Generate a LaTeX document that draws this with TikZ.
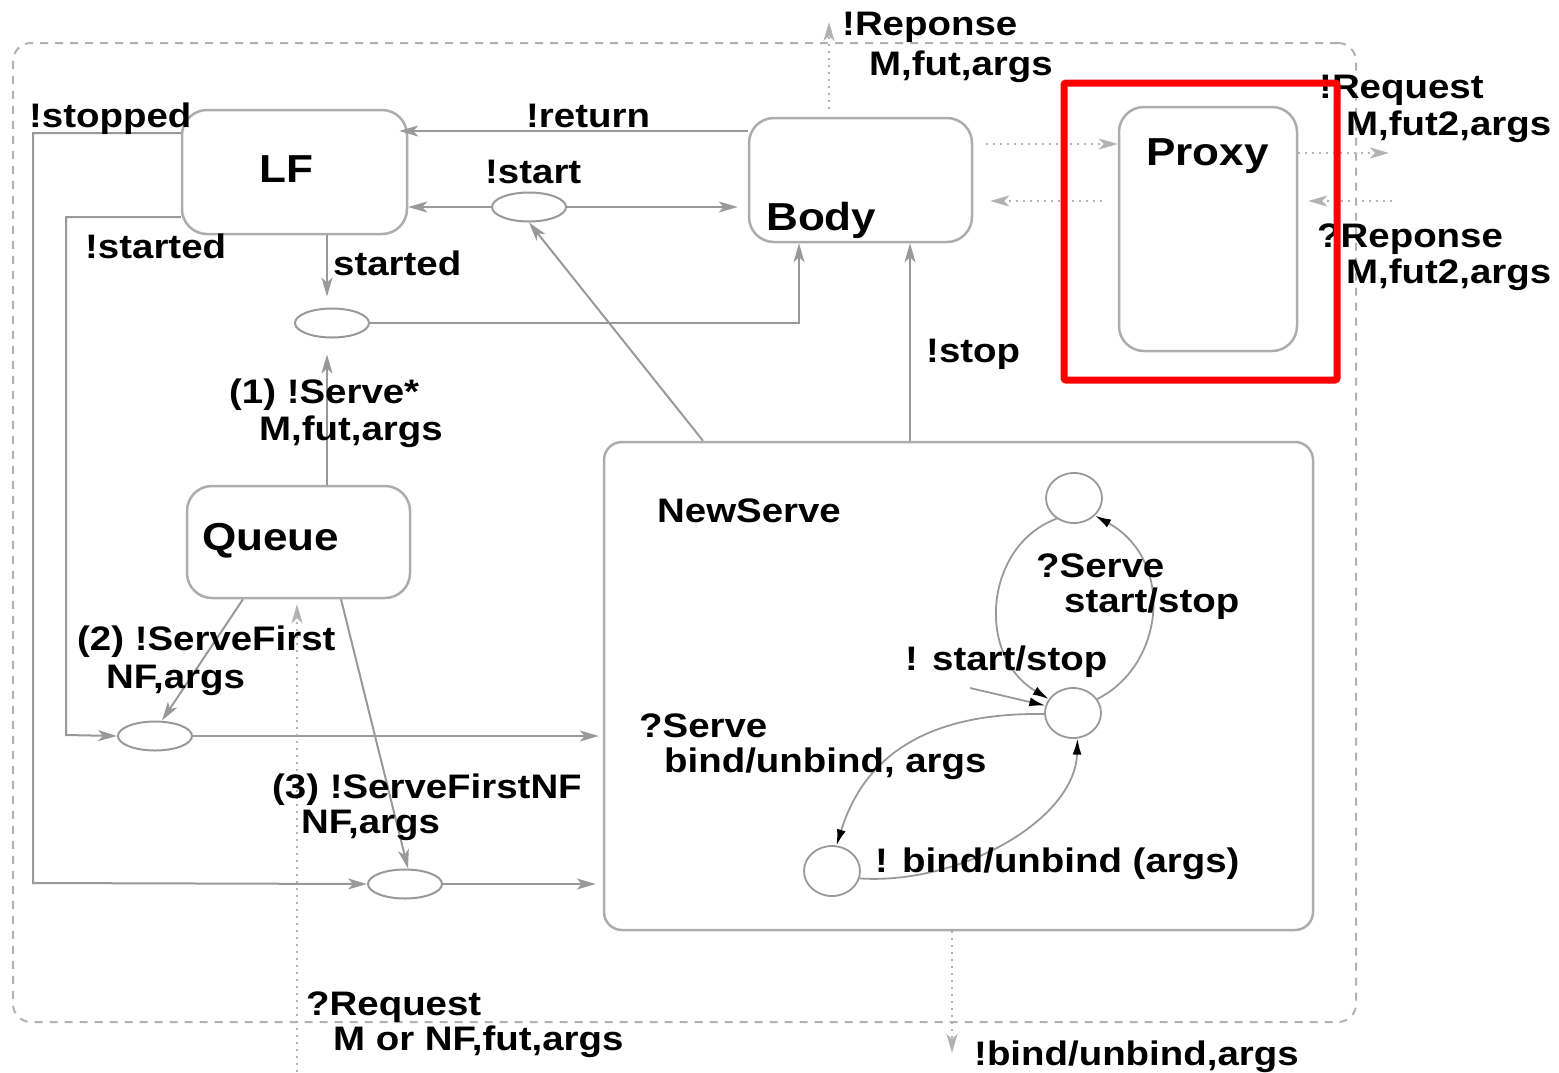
\documentclass[tikz,border=0pt]{standalone}
\usepackage{fontspec}
\setmainfont{Liberation Sans}[FakeStretch=1.13]
\usetikzlibrary{shapes.geometric,arrows.meta}
\definecolor{lc}{gray}{0.6}
\definecolor{bc}{gray}{0.68}
\definecolor{dc}{gray}{0.7}
\begin{document}
\begin{tikzpicture}[x=1pt,y=-1pt,
  box/.style={draw=bc,line width=2.5pt,rounded corners=25pt,inner sep=0},
  oval/.style={ellipse,draw=lc,line width=2pt,inner sep=0,minimum width=74pt,minimum height=29pt},
  stt/.style={ellipse,draw=lc,line width=1.8pt,inner sep=0,minimum width=56pt,minimum height=50pt},
  gtip/.tip={Stealth[length=19pt,width=11pt,inset=5pt]},
  conn/.style={draw=lc,line width=2pt,-gtip},
  dotc/.style={draw=dc,line width=2pt,dash pattern=on 2pt off 5pt,-gtip},
  tr/.style={draw=lc,line width=1.8pt,-{Latex[length=16pt,width=9pt,black]}},
  lbl/.style={anchor=base west,inner sep=0,font=\fontsize{34}{37}\selectfont\bfseries},
  bname/.style={anchor=base west,inner sep=0,font=\fontsize{39}{42}\selectfont\bfseries},
]
\useasboundingbox (0,0) rectangle (1559,1072);
% outer frame
\node[draw=dc,line width=2pt,dash pattern=on 8pt off 7pt,rounded corners=18pt,inner sep=0,
  minimum width=1343pt,minimum height=979pt] (frame) at (684.5,532.5) {};
% boxes
\node[box,minimum width=225pt,minimum height=124pt] (LF) at (294.5,172) {};
\node[box,minimum width=223pt,minimum height=124pt] (Body) at (860.5,180) {};
\node[box,minimum width=178pt,minimum height=244pt] (Proxy) at (1208,229) {};
\node[box,minimum width=223pt,minimum height=112pt] (Queue) at (298.5,542) {};
\node[box,rounded corners=18pt,minimum width=709pt,minimum height=488pt] (NewServe) at (958.5,686) {};
% box names
\node[bname] (tLF) at (259,182) {LF};
\node[bname] (tBody) at (766,230) {Body};
\node[bname] (tProxy) at (1146,165) {Proxy};
\node[bname] (tQueue) at (202,550) {Queue};
\node[lbl] (tNewServe) at (657,522) {NewServe};
% ellipses
\node[oval] (E1) at (529,207) {};
\node[oval] (E2) at (332,323) {};
\node[oval] (E3) at (155,736) {};
\node[oval] (E4) at (405,884) {};
% states
\node[stt] (C1) at (1074,498) {};
\node[stt] (C2) at (1073,713) {};
\node[stt] (C3) at (832,871) {};
% connectors
\draw[conn] (LF.west |- 0,133) -| (33,883) -- (E4.west);
\draw[conn] (LF.west |- 0,217) -| (66,735) -- (E3.west);
\draw[conn] (Body.west |- 0,131) -- ([xshift=-9pt]LF.east |- 0,131);
\draw[conn] (E1.west) -- (LF.east |- E1.west);
\draw[conn,shorten >=10pt] (E1.east) -- (Body.west |- E1.east);
\draw[conn] (NewServe.north -| 703,0) -- (E1.south);
\draw[conn,shorten >=11pt] (LF.south -| 327,0) -- (E2.north -| 327,0);
\draw[conn] (E2.east) -| (Body.south -| 799,0);
\draw[conn,shorten >=16pt] (Queue.north -| 327,0) -- (E2.south -| 327,0);
\draw[conn] (NewServe.north -| 910,0) -- (Body.south -| 910,0);
\draw[conn] (Queue.south -| 243,0) -- (E3.north -| 162,0);
\draw[conn,shorten >=4pt] (E3.east) -- (NewServe.west |- E3.east);
\draw[conn] (Queue.south -| 341,0) -- (E4.north -| 408,0);
\draw[conn,shorten >=7pt] (E4.east) -- (NewServe.west |- E4.east);
% dotted external
\coordinate (reqin) at (297,1072);
\coordinate (repout) at (829,22);
\coordinate (reqout) at (1389,153);
\coordinate (repin) at (1392,201);
\coordinate (bindout) at (952,1053);
\draw[dotc,shorten >=5pt] (reqin) -- (Queue.south -| 297,0);
\draw[dotc,shorten <=8pt] (Body.north -| 829,0) -- (repout);
\draw[dotc,shorten <=13pt] (Body.east |- 0,144) -- (Proxy.west |- 0,144);
\draw[dotc,shorten <=16pt,shorten >=17pt] (Proxy.west |- 0,201) -- (Body.east |- 0,201);
\draw[dotc] (Proxy.east |- 0,153) -- (reqout);
\draw[dotc,shorten >=10pt] (repin) -- (Proxy.east |- 0,201);
\draw[dotc] (NewServe.south -| 952,0) -- (bindout);
% NewServe internal transitions
\coordinate (init) at (970,688);
\draw[tr] (C1.230) .. controls (985,545) and (975,655) .. (C2.150);
\draw[tr] (C2.30) .. controls (1165,665) and (1175,560) .. (C1.-40);
\draw[tr] (init) -- (C2.165);
\draw[tr] (C2.182) .. controls (910,712) and (860,770) .. (C3.80);
\draw[tr] (C3.-15) .. controls (960,885) and (1075,820) .. (C2.-80);
% labels
\node[lbl] (l1) at (29,127) {!stopped};
\node[lbl] (l2) at (85,258) {!started};
\node[lbl] (l3) at (333,275) {started};
\node[lbl] (l4) at (526,127) {!return};
\node[lbl] (l5) at (485,183) {!start};
\node[lbl] (l6a) at (842,35) {!Reponse};
\node[lbl] (l6b) at (869,75) {M,fut,args};
\node[lbl] (l7a) at (1319,98) {!Request};
\node[lbl] (l7b) at (1346,135) {M,fut2,args};
\node[lbl] (l8a) at (1317,247) {?Reponse};
\node[lbl] (l8b) at (1346,283) {M,fut2,args};
\node[lbl] (l9) at (926,362) {!stop};
\node[lbl] (l10a) at (229,403) {(1) !Serve*};
\node[lbl] (l10b) at (259,440) {M,fut,args};
\node[lbl] (l11a) at (77,650) {(2) !ServeFirst};
\node[lbl] (l11b) at (106,688) {NF,args};
\node[lbl] (l12a) at (272,798) {(3) !ServeFirstNF};
\node[lbl] (l12b) at (301,833) {NF,args};
\node[lbl] (l13a) at (306,1015) {?Request};
\node[lbl] (l13b) at (333,1050) {M or NF,fut,args};
\node[lbl] (l14) at (974,1065) {!bind/unbind,args};
\node[lbl] (l15a) at (1036,577) {?Serve};
\node[lbl] (l15b) at (1064,612) {start/stop};
\node[lbl] (l16) at (905,670) {! start/stop};
\node[lbl] (l17a) at (639,737) {?Serve};
\node[lbl] (l17b) at (664,772) {bind/unbind, args};
\node[lbl] (l18) at (875,872) {! bind/unbind (args)};
% highlight
\node[draw=red,line width=7pt,rounded corners=2pt,inner sep=0,
  minimum width=273pt,minimum height=297pt] (hl) at (1200.5,231.5) {};
\end{tikzpicture}
\end{document}
